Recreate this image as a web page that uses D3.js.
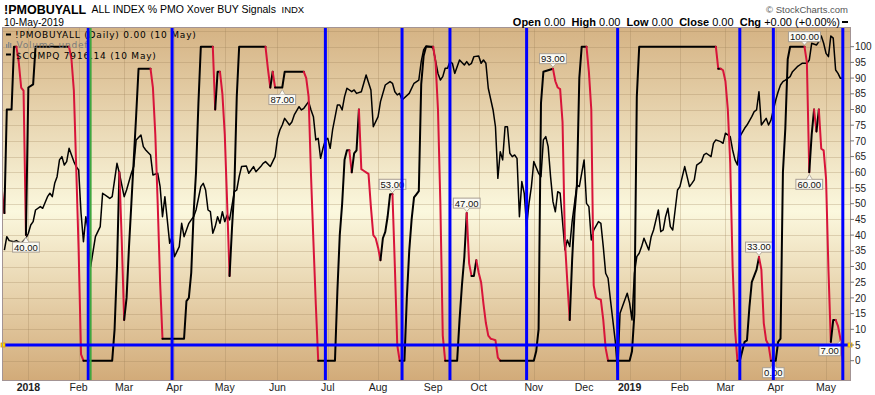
<!DOCTYPE html>
<html>
<head>
<meta charset="utf-8">
<script src="https://cdn.jsdelivr.net/npm/d3@7"></script>
<style>
  html, body { margin: 0; padding: 0; background: #fff; }
  svg { display: block; }
  text { font-family: "Liberation Sans", Arial, sans-serif; }
  .legend text { font-family: "DejaVu Sans", Verdana, sans-serif; }
</style>
</head>
<body>
<div id="chart"></div>
<script>
// market closures in the window (no bar on these days)
const marketHolidays = ["2017-12-25","2018-01-01","2018-01-15","2018-02-19","2018-03-30","2018-05-28",
  "2018-07-04","2018-09-03","2018-11-22","2018-12-05","2018-12-25","2019-01-01","2019-01-21","2019-02-18","2019-04-19"];

// !PMOBUYALL (% of stocks with PMO crossover BUY signal), turning points
const pmoBuyAll = [
  ["2017-12-14",54],["2017-12-15",47],["2017-12-18",80],["2017-12-20",80],["2017-12-21",100],["2017-12-22",100],
  ["2017-12-26",95],["2017-12-27",87],["2017-12-28",86],["2017-12-29",40],["2018-01-02",87],["2018-01-04",88],
  ["2018-01-05",100],["2018-01-26",100],["2018-01-29",96],["2018-01-30",86],["2018-01-31",61],["2018-02-01",35],
  ["2018-02-02",2],["2018-02-05",0],["2018-02-22",0],["2018-02-23",10],["2018-02-26",30],["2018-02-27",60],
  ["2018-02-28",38],["2018-03-01",13],["2018-03-02",20],["2018-03-05",36],["2018-03-06",50],["2018-03-07",64],
  ["2018-03-08",78],["2018-03-09",93],["2018-03-16",93],["2018-03-19",87],["2018-03-20",72],["2018-03-21",50],
  ["2018-03-22",25],["2018-03-23",7],["2018-04-06",7],["2018-04-09",19],["2018-04-10",20],["2018-04-11",28],
  ["2018-04-12",47],["2018-04-13",60],["2018-04-16",82],["2018-04-17",100],["2018-04-24",100],["2018-04-25",80],
  ["2018-04-26",92],["2018-04-27",92],["2018-04-30",85],["2018-05-01",72],["2018-05-02",50],["2018-05-03",27],
  ["2018-05-04",42],["2018-05-07",55],["2018-05-08",84],["2018-05-09",100],["2018-05-24",100],["2018-05-25",93],
  ["2018-05-29",87],["2018-05-30",92],["2018-05-31",87],["2018-06-05",87],["2018-06-06",92],["2018-06-18",92],
  ["2018-06-19",90],["2018-06-20",84],["2018-06-21",59],["2018-06-22",38],["2018-06-25",18],["2018-06-26",0],
  ["2018-07-06",0],["2018-07-09",22],["2018-07-10",40],["2018-07-11",50],["2018-07-12",64],["2018-07-13",67],
  ["2018-07-16",67],["2018-07-17",60],["2018-07-18",66],["2018-07-19",67],["2018-07-20",80],["2018-07-23",61],
  ["2018-07-24",60.5],["2018-07-25",60],["2018-07-26",59.5],["2018-07-27",49],["2018-07-30",40],["2018-07-31",39],
  ["2018-08-01",36],["2018-08-02",32],["2018-08-03",39],["2018-08-06",41],["2018-08-07",46],["2018-08-08",53],
  ["2018-08-09",53],["2018-08-10",30],["2018-08-13",5],["2018-08-14",0],["2018-08-16",0],["2018-08-17",20],
  ["2018-08-20",35],["2018-08-21",45],["2018-08-22",52],["2018-08-23",53],["2018-08-24",54],["2018-08-27",88],
  ["2018-08-28",97],["2018-08-29",100],["2018-09-04",100],["2018-09-05",95],["2018-09-06",80],["2018-09-07",50],
  ["2018-09-10",8],["2018-09-11",0],["2018-09-18",0],["2018-09-19",13],["2018-09-20",24],["2018-09-21",33],
  ["2018-09-24",47],["2018-09-25",31],["2018-09-26",27],["2018-09-27",27],["2018-09-28",32],["2018-10-01",28],
  ["2018-10-02",25],["2018-10-03",18],["2018-10-04",12],["2018-10-05",8],["2018-10-08",7],["2018-10-09",6.8],
  ["2018-10-10",6.5],["2018-10-11",1],["2018-10-12",0],["2018-11-01",0],["2018-11-02",3],["2018-11-05",10],
  ["2018-11-06",82],["2018-11-07",92],["2018-11-13",93],["2018-11-14",89],["2018-11-15",87],["2018-11-16",86.5],
  ["2018-11-19",76],["2018-11-20",38],["2018-11-21",25],["2018-11-23",13],["2018-11-26",32],["2018-11-27",47],
  ["2018-11-28",56],["2018-11-29",90],["2018-11-30",100],["2018-12-04",100],["2018-12-06",92],["2018-12-07",80],
  ["2018-12-10",24],["2018-12-11",20],["2018-12-12",19.7],["2018-12-13",19.4],["2018-12-14",13],["2018-12-17",4],
  ["2018-12-18",0],["2019-01-02",0],["2019-01-03",3],["2019-01-04",15],["2019-01-07",84],["2019-01-08",100],
  ["2019-02-25",100],["2019-02-26",93],["2019-02-27",93],["2019-02-28",92.5],["2019-03-01",89],["2019-03-04",80],
  ["2019-03-05",63],["2019-03-06",30],["2019-03-07",10],["2019-03-08",0],["2019-03-11",0],["2019-03-12",3],
  ["2019-03-13",6],["2019-03-14",6.5],["2019-03-15",17],["2019-03-18",25],["2019-03-19",27],["2019-03-20",29],
  ["2019-03-21",33],["2019-03-22",29],["2019-03-25",12],["2019-03-26",6.5],["2019-03-27",5],["2019-03-28",0],
  ["2019-03-29",0],["2019-04-01",0],["2019-04-02",6],["2019-04-03",7],["2019-04-04",60],["2019-04-05",74],
  ["2019-04-08",96],["2019-04-09",100],["2019-04-17",100],["2019-04-18",95],["2019-04-22",60],["2019-04-23",72],
  ["2019-04-24",80],["2019-04-25",73],["2019-04-26",80],["2019-04-29",67.5],["2019-04-30",67],["2019-05-01",58],
  ["2019-05-02",29],["2019-05-03",6],["2019-05-06",13],["2019-05-07",13],["2019-05-08",11],["2019-05-09",7],
  ["2019-05-10",0]
];

// $COMPQ closes
const compq = [
  ["2017-12-15",6911],["2017-12-18",6989],["2017-12-19",6966],["2017-12-21",6960],["2017-12-22",6966],["2017-12-27",6950],
  ["2017-12-29",6980],["2018-01-02",7009],["2018-01-03",7057],["2018-01-04",7077],["2018-01-05",7145],["2018-01-09",7165],
  ["2018-01-10",7155],["2018-01-12",7223],["2018-01-16",7243],["2018-01-17",7223],["2018-01-18",7301],["2018-01-19",7340],
  ["2018-01-22",7438],["2018-01-23",7457],["2018-01-24",7408],["2018-01-25",7428],["2018-01-26",7506],["2018-01-30",7428],
  ["2018-01-31",7399],["2018-02-01",7379],["2018-02-02",7126],["2018-02-05",6960],["2018-02-06",7106],["2018-02-07",7028],
  ["2018-02-08",6814],["2018-02-12",6989],["2018-02-14",7048],["2018-02-15",7243],["2018-02-20",7223],["2018-02-21",7213],
  ["2018-02-22",7223],["2018-02-26",7418],["2018-02-27",7360],["2018-03-01",7223],["2018-03-02",7262],["2018-03-06",7360],
  ["2018-03-07",7399],["2018-03-08",7555],["2018-03-12",7584],["2018-03-13",7516],["2018-03-14",7496],["2018-03-16",7467],
  ["2018-03-19",7350],["2018-03-21",7360],["2018-03-22",7282],["2018-03-23",7106],["2018-03-26",7223],["2018-03-27",7087],
  ["2018-03-28",6950],["2018-03-29",6989],["2018-04-02",6872],["2018-04-04",6931],["2018-04-05",7067],["2018-04-06",6989],
  ["2018-04-09",7028],["2018-04-10",7067],["2018-04-11",7087],["2018-04-12",7106],["2018-04-13",7145],["2018-04-17",7282],
  ["2018-04-18",7301],["2018-04-19",7262],["2018-04-20",7145],["2018-04-23",7135],["2018-04-24",7009],["2018-04-25",7048],
  ["2018-04-26",7106],["2018-04-27",7067],["2018-04-30",7135],["2018-05-01",7077],["2018-05-02",7116],["2018-05-03",7087],
  ["2018-05-07",7252],["2018-05-08",7262],["2018-05-09",7340],["2018-05-10",7399],["2018-05-14",7403],["2018-05-15",7360],
  ["2018-05-16",7379],["2018-05-17",7399],["2018-05-18",7369],["2018-05-22",7399],["2018-05-23",7418],["2018-05-24",7428],
  ["2018-05-29",7399],["2018-05-30",7428],["2018-05-31",7457],["2018-06-01",7564],["2018-06-04",7613],["2018-06-05",7642],
  ["2018-06-06",7681],["2018-06-08",7642],["2018-06-11",7660],["2018-06-12",7701],["2018-06-14",7749],["2018-06-15",7730],
  ["2018-06-18",7740],["2018-06-20",7779],["2018-06-21",7730],["2018-06-22",7691],["2018-06-25",7555],["2018-06-26",7564],
  ["2018-06-27",7447],["2018-06-28",7506],["2018-06-29",7555],["2018-07-02",7564],["2018-07-03",7506],["2018-07-05",7613],
  ["2018-07-09",7759],["2018-07-10",7759],["2018-07-11",7730],["2018-07-12",7808],["2018-07-13",7857],["2018-07-17",7837],
  ["2018-07-18",7847],["2018-07-19",7827],["2018-07-23",7837],["2018-07-25",7935],["2018-07-27",7847],["2018-07-30",7632],
  ["2018-08-01",7691],["2018-08-02",7779],["2018-08-06",7876],["2018-08-08",7896],["2018-08-09",7886],["2018-08-10",7837],
  ["2018-08-13",7818],["2018-08-14",7827],["2018-08-15",7788],["2018-08-20",7827],["2018-08-22",7886],["2018-08-24",7905],
  ["2018-08-27",8013],["2018-08-28",8081],["2018-08-29",8104],["2018-08-31",8100],["2018-09-04",8090],["2018-09-06",7944],
  ["2018-09-07",7905],["2018-09-10",7925],["2018-09-11",7974],["2018-09-12",7974],["2018-09-13",8013],["2018-09-14",8003],
  ["2018-09-17",7944],["2018-09-18",7983],["2018-09-19",8022],["2018-09-21",7993],["2018-09-24",8013],["2018-09-25",7993],
  ["2018-09-26",8003],["2018-09-27",8042],["2018-10-01",8046],["2018-10-02",8003],["2018-10-03",8022],["2018-10-04",8003],
  ["2018-10-05",7857],["2018-10-09",7730],["2018-10-10",7632],["2018-10-11",7330],["2018-10-12",7486],["2018-10-15",7438],
  ["2018-10-16",7632],["2018-10-17",7632],["2018-10-18",7477],["2018-10-19",7457],["2018-10-22",7467],["2018-10-23",7447],
  ["2018-10-24",7106],["2018-10-25",7311],["2018-10-26",7243],["2018-10-29",7048],["2018-10-30",7184],["2018-10-31",7282],
  ["2018-11-01",7428],["2018-11-05",7360],["2018-11-06",7340],["2018-11-07",7555],["2018-11-08",7574],["2018-11-09",7516],
  ["2018-11-12",7340],["2018-11-13",7194],["2018-11-14",7135],["2018-11-15",7252],["2018-11-16",7243],["2018-11-20",6911],
  ["2018-11-21",6970],["2018-11-23",6931],["2018-11-26",7077],["2018-11-28",7291],["2018-11-29",7282],["2018-12-03",7438],
  ["2018-12-04",7184],["2018-12-06",7165],["2018-12-07",6970],["2018-12-10",7028],["2018-12-12",7077],["2018-12-13",7067],
  ["2018-12-14",6931],["2018-12-17",6775],["2018-12-18",6746],["2018-12-19",6619],["2018-12-21",6380],["2018-12-24",6190],
  ["2018-12-26",6541],["2018-12-27",6580],["2018-12-31",6658],["2019-01-02",6600],["2019-01-03",6502],["2019-01-04",6775],
  ["2019-01-07",6872],["2019-01-08",6892],["2019-01-09",6931],["2019-01-10",6980],["2019-01-14",6911],["2019-01-15",6989],
  ["2019-01-16",7028],["2019-01-17",7087],["2019-01-18",7145],["2019-01-22",7018],["2019-01-23",7028],["2019-01-24",7106],
  ["2019-01-25",7155],["2019-01-28",7048],["2019-01-29",7028],["2019-01-31",7262],["2019-02-01",7282],["2019-02-04",7340],
  ["2019-02-05",7399],["2019-02-07",7282],["2019-02-08",7301],["2019-02-11",7321],["2019-02-12",7408],["2019-02-13",7418],
  ["2019-02-14",7428],["2019-02-15",7467],["2019-02-19",7477],["2019-02-21",7457],["2019-02-22",7535],["2019-02-25",7555],
  ["2019-02-27",7545],["2019-02-28",7535],["2019-03-01",7594],["2019-03-05",7574],["2019-03-06",7496],["2019-03-07",7438],
  ["2019-03-08",7408],["2019-03-11",7574],["2019-03-13",7623],["2019-03-14",7642],["2019-03-18",7691],["2019-03-19",7720],
  ["2019-03-20",7730],["2019-03-21",7837],["2019-03-22",7642],["2019-03-26",7681],["2019-03-27",7642],["2019-03-28",7671],
  ["2019-03-29",7730],["2019-04-01",7788],["2019-04-02",7837],["2019-04-03",7876],["2019-04-04",7896],["2019-04-05",7905],
  ["2019-04-09",7925],["2019-04-10",7954],["2019-04-12",7983],["2019-04-15",7993],["2019-04-16",8003],["2019-04-18",8003],
  ["2019-04-22",8022],["2019-04-23",8120],["2019-04-25",8110],["2019-04-26",8130],["2019-04-29",8163],["2019-04-30",8120],
  ["2019-05-01",8061],["2019-05-02",8042],["2019-05-03",8163],["2019-05-06",8150],["2019-05-07",7964],["2019-05-08",7944],
  ["2019-05-09",7915],["2019-05-10",7916]
];

// annotations: value labels on the PMO line
const valueLabels = [
  ["2017-12-29","below"],["2018-06-05","below"],["2018-08-09","above"],["2018-09-24","above"],
  ["2018-11-13","above"],["2019-03-21","above"],["2019-03-29","below"],["2019-04-17","above"],
  ["2019-04-22","below"],["2019-05-09","belowLeft"]
];
const blueLineDates = ["2018-02-07","2018-03-29","2018-06-29","2018-08-15","2018-09-13","2018-10-29",
  "2018-12-24","2019-03-11","2019-03-29","2019-05-10"];
const greenLineDates = ["2018-02-08"];
const signalLevel = 5;
const yTicks = d3.range(0, 101, 5);
const gridLevels = d3.range(0, 106, 5);

const W = 875, H = 395;
const plot = { left: 3, top: 28, right: 850, bottom: 380 };
const red = "#d8143a", black = "#000";

const parse = d3.timeParse("%Y-%m-%d");
const fmt = d3.timeFormat("%Y-%m-%d");
const holidaySet = new Set(marketHolidays);
const tradingDays = d3.timeDay.range(parse("2017-12-14"), parse("2019-05-16"))
  .filter(d => d.getDay() % 6 !== 0 && !holidaySet.has(fmt(d)));
const dayIndex = new Map(tradingDays.map((d, i) => [fmt(d), i]));

const x = d3.scaleLinear().domain([0, tradingDays.length - 1]).range([2, 850]);
const xd = s => x(dayIndex.get(s));
const y = d3.scaleLinear().domain([0, 100]).range([360.7, 46.7]);
const yc = d3.scaleLinear().domain([6190, 8110]).range([373.3, 45]);

const monthStarts = tradingDays.filter((d, i) => i > 0 && d.getMonth() !== tradingDays[i - 1].getMonth());

const svg = d3.select("#chart").append("svg")
  .attr("width", W).attr("height", H)
  .attr("viewBox", [0, 0, W, H]);

svg.append("rect").attr("width", W).attr("height", H).attr("fill", "#fff");

const defs = svg.append("defs");
const grad = defs.append("linearGradient").attr("id", "bg").attr("x1", 0).attr("y1", 0).attr("x2", 0).attr("y2", 1);
grad.append("stop").attr("offset", "0%").attr("stop-color", "#d5b384");
grad.append("stop").attr("offset", "52%").attr("stop-color", "#fbf8de");
grad.append("stop").attr("offset", "100%").attr("stop-color", "#d2ab79");
defs.append("clipPath").attr("id", "clip").append("rect")
  .attr("x", plot.left).attr("y", plot.top)
  .attr("width", plot.right - plot.left).attr("height", plot.bottom - plot.top);

svg.append("rect")
  .attr("x", plot.left).attr("y", plot.top)
  .attr("width", plot.right - plot.left).attr("height", plot.bottom - plot.top)
  .attr("fill", "url(#bg)");

// grid
const grid = svg.append("g").attr("stroke", "#9c7c56").attr("stroke-opacity", 0.28).attr("stroke-width", 1);
grid.selectAll("line.h").data(gridLevels).join("line").attr("class", "h")
  .attr("x1", plot.left).attr("x2", plot.right)
  .attr("y1", d => Math.round(y(d)) + 0.5).attr("y2", d => Math.round(y(d)) + 0.5);
grid.selectAll("line.v").data(monthStarts).join("line").attr("class", "v")
  .attr("x1", d => Math.round(x(dayIndex.get(fmt(d)))) + 0.5)
  .attr("x2", d => Math.round(x(dayIndex.get(fmt(d)))) + 0.5)
  .attr("y1", plot.top).attr("y2", plot.bottom);

const body = svg.append("g").attr("clip-path", "url(#clip)");

// $COMPQ overlay
const compqLine = d3.line().x(d => xd(d[0])).y(d => yc(d[1]));
body.append("path").datum(compq)
  .attr("d", compqLine).attr("fill", "none")
  .attr("stroke", black).attr("stroke-width", 1.5).attr("stroke-linejoin", "round");

// PMO line, red on down days, black otherwise
const pts = pmoBuyAll.map(([d, v]) => ({ x: xd(d), y: y(v), v }));
const runs = [];
for (let i = 1; i < pts.length; i++) {
  const color = pts[i].v < pts[i - 1].v ? red : black;
  const last = runs[runs.length - 1];
  if (last && last.color === color) last.pts.push(pts[i]);
  else runs.push({ color, pts: [pts[i - 1], pts[i]] });
}
const pmoLine = d3.line().x(d => d.x).y(d => d.y);
body.selectAll("path.pmo").data(runs).join("path").attr("class", "pmo")
  .attr("d", d => pmoLine(d.pts)).attr("fill", "none")
  .attr("stroke", d => d.color).attr("stroke-width", 2)
  .attr("stroke-linejoin", "round").attr("stroke-linecap", "round");

// value labels
const valueOf = new Map(pmoBuyAll);
const lab = svg.append("g");
valueLabels.forEach(([d, pos]) => {
  const v = valueOf.get(d);
  const px = xd(d), py = y(v);
  const g = lab.append("g");
  const t = g.append("text").text(v.toFixed(2))
    .attr("font-size", 9.5).attr("fill", "#111");
  const tw = t.node().getComputedTextLength();
  const bw = tw + 3, bh = 10;
  let bx = px - bw / 2, by, tri;
  if (pos === "above") {
    by = py - 5 - bh;
    tri = [[px - 3, by + bh], [px, py - 1.5], [px + 3, by + bh]];
  } else {
    by = py + 7;
    if (pos === "belowLeft") bx = px - bw;
    const cx = pos === "belowLeft" ? px - 3 : px;
    tri = [[cx - 3, by], [px, py + 2], [cx + 3, by]];
  }
  g.insert("rect", "text").attr("x", bx).attr("y", by).attr("width", bw).attr("height", bh)
    .attr("fill", "#fbfaf4").attr("stroke", "#a89e92").attr("stroke-width", 1);
  g.insert("path", "text").attr("d", d3.line()(tri)).attr("fill", "#fbfaf4").attr("stroke", "none");
  g.insert("path", "text").attr("d", d3.line()(tri)).attr("fill", "none").attr("stroke", "#a89e92").attr("stroke-width", 0.8);
  t.attr("x", bx + bw / 2).attr("y", by + bh - 1.6).attr("text-anchor", "middle");
});

// legend inside the plot
const leg = svg.append("g").attr("class", "legend").attr("font-size", 9).attr("letter-spacing", 0.8);
leg.append("line").attr("x1", 6).attr("x2", 11).attr("y1", 34.5).attr("y2", 34.5).attr("stroke", black).attr("stroke-width", 2);
leg.append("text").attr("x", 15).attr("y", 38).text("!PMOBUYALL (Daily) 0.00 (10 May)");
leg.selectAll("rect.vol").data([[6, 4], [8, 6], [10, 5]]).join("rect").attr("class", "vol")
  .attr("x", d => d[0]).attr("y", d => 48 - d[1]).attr("width", 1.4).attr("height", d => d[1]).attr("fill", "#888");
leg.append("text").attr("x", 16.5).attr("y", 48.3).attr("fill", "#7a7a7a").text("Volume undef");
leg.append("line").attr("x1", 6).attr("x2", 11).attr("y1", 54.5).attr("y2", 54.5).attr("stroke", black).attr("stroke-width", 2);
leg.append("text").attr("x", 16).attr("y", 58.5).text("$COMPQ 7916.14 (10 May)");

// signal lines on top
const sig = svg.append("g").attr("clip-path", "url(#clip)");
sig.selectAll("line.blue").data(blueLineDates).join("line").attr("class", "blue")
  .attr("x1", d => xd(d)).attr("x2", d => xd(d)).attr("y1", plot.top).attr("y2", plot.bottom)
  .attr("stroke", "#0000ff").attr("stroke-width", 3);
sig.selectAll("line.green").data(greenLineDates).join("line").attr("class", "green")
  .attr("x1", d => xd(d)).attr("x2", d => xd(d)).attr("y1", plot.top).attr("y2", plot.bottom)
  .attr("stroke", "#3fa63f").attr("stroke-width", 2);
svg.append("line").attr("x1", plot.left).attr("x2", plot.right)
  .attr("y1", y(signalLevel)).attr("y2", y(signalLevel))
  .attr("stroke", "#0000ff").attr("stroke-width", 3);
svg.selectAll("rect.handle").data([plot.left, plot.right]).join("rect").attr("class", "handle")
  .attr("x", d => d - 2).attr("y", y(signalLevel) - 2).attr("width", 4).attr("height", 4)
  .attr("fill", "#ffe600").attr("stroke", "#e09a00").attr("stroke-width", 0.8);

// plot frame
svg.append("rect")
  .attr("x", plot.left - 0.5).attr("y", plot.top - 0.5)
  .attr("width", plot.right - plot.left + 1).attr("height", plot.bottom - plot.top + 1)
  .attr("fill", "none").attr("stroke", "#a39494").attr("stroke-width", 1);

// right axis
const ax = svg.append("g");
ax.selectAll("line").data(yTicks).join("line")
  .attr("x1", plot.right).attr("x2", plot.right + 4)
  .attr("y1", d => y(d)).attr("y2", d => y(d))
  .attr("stroke", "#777").attr("stroke-width", 1);
ax.selectAll("text").data(yTicks).join("text")
  .attr("x", 855).attr("y", d => y(d) + 3.6)
  .attr("font-size", 10).attr("fill", "#222")
  .text(d => d);

// bottom axis
const fmtMonth = d3.timeFormat("%b");
svg.append("g").selectAll("text").data(monthStarts).join("text")
  .attr("x", d => x(dayIndex.get(fmt(d))))
  .attr("y", 391)
  .attr("text-anchor", "middle")
  .attr("font-size", 10.5)
  .attr("font-weight", d => d.getMonth() === 0 ? "bold" : "normal")
  .attr("fill", "#222")
  .text(d => d.getMonth() === 0 ? d.getFullYear() : fmtMonth(d));

// header
svg.append("text").attr("x", 4).attr("y", 13.5).attr("font-size", 12.5).attr("font-weight", "bold").text("!PMOBUYALL");
svg.append("text").attr("x", 91.5).attr("y", 13).attr("font-size", 10.5).text("ALL INDEX % PMO Xover BUY Signals");
svg.append("text").attr("x", 281.5).attr("y", 13).attr("font-size", 9.5).text("INDX");
svg.append("text").attr("x", 4).attr("y", 25.5).attr("font-size", 10.2).text("10-May-2019");
svg.append("text").attr("x", 848).attr("y", 12.5).attr("text-anchor", "end")
  .attr("font-size", 9.5).attr("fill", "#555").text("\u00A9 StockCharts.com");

const quote = [["Open", "0.00"], ["High", "0.00"], ["Low", "0.00"], ["Close", "0.00"], ["Chg", "+0.00 (+0.00%)"]];
const qt = svg.append("text").attr("x", 840).attr("y", 25.5).attr("text-anchor", "end").attr("font-size", 11);
quote.forEach(([k, v], i) => {
  qt.append("tspan").attr("font-weight", "bold").text((i ? "  " : "") + k + " ");
  qt.append("tspan").text(v);
});
qt.attr("xml:space", "preserve");
svg.append("line").attr("x1", 842).attr("x2", 848).attr("y1", 22).attr("y2", 22).attr("stroke", black).attr("stroke-width", 2);
</script>
</body>
</html>
